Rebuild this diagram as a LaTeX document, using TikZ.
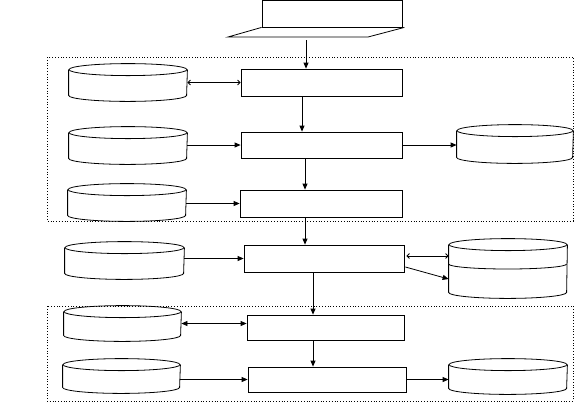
\documentclass[tikz,border=0pt]{standalone}
\usetikzlibrary{arrows.meta}
% data store: name, centre, half width, height
\newcommand{\dbstore}[4]{%
  \node[inner sep=0pt,minimum width=2*#3,minimum height=#4] (#1) at (#2) {};
  \draw ([yshift=-6bp]#1.north) ellipse [x radius=#3,y radius=6bp];
  \draw ([yshift=-6bp]#1.north west) -- ([yshift=6bp]#1.south west)
    arc[start angle=180,end angle=360,x radius=#3,y radius=6bp]
    -- ([yshift=-6bp]#1.north east);
}
\begin{document}
\begin{tikzpicture}[x=1bp,y=-1bp,line width=0.8bp,
  box/.style={draw,inner sep=0pt,minimum width=#1,minimum height=26bp},
  frame/.style={dotted},
  fa/.style={-{Triangle[length=6bp,width=5bp]}},
  fb/.style={{Triangle[length=6bp,width=5bp]}-{Triangle[length=6bp,width=5bp]}},
  oa/.style={{Straight Barb[length=2.5bp,width=5bp]}-{Straight Barb[length=2.5bp,width=5bp]}}]
\useasboundingbox (0,0) rectangle (582,416);
% input
\node[box=140bp,minimum height=27bp] (inp) at (332,13.5) {};
\draw (inp.south west) -- (228,37) -- (368,37) -- ([xshift=2bp]inp.south east);
\coordinate (inbase) at (306,40);
% dotted groups
\draw[frame] (47,57) rectangle (573,221);
\draw[frame] (47,306) rectangle (573,401);
% boxes
\node[box=161bp,minimum height=27bp] (b1) at (321.5,82.5) {};
\node[box=161bp] (b2) at (321.5,145) {};
\node[box=162bp,minimum height=27bp] (b3) at (321,203.5) {};
\node[box=160bp,minimum height=27bp] (b4) at (324,258.5) {};
\node[box=157bp,minimum height=25bp] (b5) at (325.5,327.5) {};
\node[box=158bp,minimum height=25bp] (b6) at (327,379.5) {};
% stores left
\dbstore{c1}{128,82.5}{59bp}{37bp}
\dbstore{c2}{128,145.5}{59bp}{37bp}
\dbstore{c3}{127,202.5}{59bp}{37bp}
\dbstore{c4}{124.5,260.5}{59.5bp}{37bp}
\dbstore{c5}{122.5,323.5}{58.5bp}{35bp}
\dbstore{c6}{121.5,376}{58.5bp}{34bp}
% stores right
\dbstore{r1}{515,144}{58bp}{38bp}
\dbstore{r2}{508,268.5}{59bp}{59bp}
\draw (r2.west |- 0,264) arc[start angle=180,end angle=360,x radius=59bp,y radius=5bp];
\dbstore{r3}{508,376.5}{59bp}{35bp}
% flow down
\draw[fa] (inbase) -- (b1.north -| inbase);
\draw[fa] (b1.south -| 302,0) -- (b2.north -| 302,0);
\draw[fa] (b2.south -| 305,0) -- (b3.north -| 305,0);
\draw[fa] (b3.south -| 305,0) -- (b4.north -| 305,0);
\draw[fa] (b4.south -| 313,0) -- (b5.north -| 313,0);
\draw[fa] (b5.south -| 313,0) -- (b6.north -| 313,0);
% left links
\draw[oa] (c1.east) -- (b1.west);
\draw[fa] (c2.east |- b2) -- (b2.west);
\draw[fa] (c3.east |- b3) -- (b3.west);
\draw[fa] (c4.east |- b4) -- (b4.west);
\draw[fb] (c5.east) -- (c5.east -| b5.west);
\draw[fa] (c6.east |- b6) -- (b6.west);
% right links
\draw[fa] (b2.east) -- (r1.west |- b2.east);
\draw[oa] ([xshift=2bp]b4.east |- 0,256) -- (r2.west |- 0,256);
\draw[fa] ([xshift=1bp]b4.east |- 0,267) -- (r2.west |- 0,279);
\draw[fa] (b6.east) -- (r3.west |- b6.east);
\end{tikzpicture}
\end{document}
